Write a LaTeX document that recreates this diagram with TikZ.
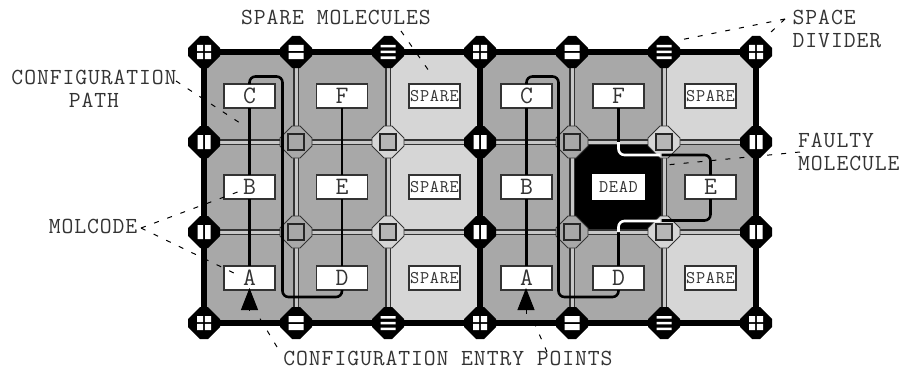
\documentclass[tikz,border=0pt]{standalone}
\usepackage{fontspec}
\setmonofont{Latin Modern Mono}[LetterSpace=4.0]
\usetikzlibrary{
    arrows.meta,
    positioning
}
\definecolor{cellgray}{gray}{0.66}
\definecolor{sparegray}{gray}{0.84}
\definecolor{buslight}{gray}{0.78}
\def\knotoutline{(-16,-4) -- (-4,-16) -- (4,-16) -- (16,-4) -- (16,4) -- (4,16) -- (-4,16) -- (-16,4) -- cycle}
\tikzstyle{molecule} = [
    rectangle,
    draw=black!80,
    line width=1.3pt,
    fill=white,
    text=black!80,
    minimum width=51pt,
    minimum height=24pt,
    inner sep=0pt,
    outer sep=0pt,
    font=\ttfamily\fontsize{25}{25}\selectfont
]
\tikzstyle{sparebox} = [
    molecule,
    font=\ttfamily\fontsize{17.8}{17.8}\selectfont
]
\tikzstyle{deadbox} = [
    sparebox,
    draw=white
]
\tikzstyle{cell} = [
    rectangle,
    minimum width=92pt,
    minimum height=90pt,
    inner sep=0pt,
    outer sep=0pt,
    fill=cellgray
]
\tikzstyle{label} = [
    inner sep=0pt,
    text=black!80,
    font=\ttfamily\fontsize{23}{23}\selectfont
]
\tikzstyle{wall} = [line width=6.5pt, black]
\tikzstyle{bus} = [line width=1.3pt, draw=black!80, double=buslight, double distance=3pt]
\tikzstyle{molpath} = [line width=2.6pt, rounded corners=6pt]
\tikzstyle{lostpath} = [molpath, white]
\tikzstyle{leader} = [line width=1pt, dash pattern=on 5pt off 9pt]
\tikzstyle{entry} = [-{Triangle[length=22pt,width=17pt]}, line width=1pt]
\tikzset{
    cornerknot/.pic={
        \fill[black] \knotoutline;
        \fill[white] (-7,-7) rectangle (-0.8,-0.8) (0.8,-7) rectangle (7,-0.8)
            (-7,0.8) rectangle (-0.8,7) (0.8,0.8) rectangle (7,7);
    },
    twobarknot/.pic={
        \fill[black] \knotoutline;
        \fill[white] (-7.5,-7) rectangle (7.5,-1) (-7.5,1) rectangle (7.5,7);
    },
    threebarknot/.pic={
        \fill[black] \knotoutline;
        \fill[white] (-7.5,-7) rectangle (7.5,-4.5) (-7.5,-1.25) rectangle (7.5,1.25)
            (-7.5,4.5) rectangle (7.5,7);
    },
    pillarknot/.pic={
        \fill[black] \knotoutline;
        \fill[white] (-6.5,-7) rectangle (-1,7) (1,-7) rectangle (6.5,7);
    },
    switchdark/.pic={
        \draw[black!80, line width=0.9pt, fill=cellgray] \knotoutline;
        \draw[black!85, line width=1.3pt, fill=cellgray] (-8,-8) rectangle (8,8);
    },
    switchlight/.pic={
        \draw[black!80, line width=0.9pt, fill=sparegray] \knotoutline;
        \draw[black!85, line width=1.3pt, fill=sparegray!85!black] (-8,-8) rectangle (8,8);
    }
}
\begin{document}
\begin{tikzpicture}[x=1pt, y=-1pt]
    \useasboundingbox (0,0) rectangle (901,369);

    % Cells
    \node[cell] (cellA) at (250,97) {};
    \node[cell, right=0pt of cellA] (cellB) {};
    \node[cell, right=0pt of cellB, fill=sparegray] (cellC) {};
    \node[cell, right=0pt of cellC] (cellD) {};
    \node[cell, right=0pt of cellD] (cellE) {};
    \node[cell, right=0pt of cellE, fill=sparegray] (cellF) {};
    \node[cell, below=0pt of cellA] (cellG) {};
    \node[cell, below=0pt of cellB] (cellH) {};
    \node[cell, below=0pt of cellC, fill=sparegray] (cellI) {};
    \node[cell, below=0pt of cellD] (cellJ) {};
    \node[cell, below=0pt of cellE, fill=black] (cellK) {};
    \node[cell, below=0pt of cellF] (cellL) {};
    \node[cell, below=0pt of cellG] (cellM) {};
    \node[cell, below=0pt of cellH] (cellN) {};
    \node[cell, below=0pt of cellI, fill=sparegray] (cellO) {};
    \node[cell, below=0pt of cellJ] (cellP) {};
    \node[cell, below=0pt of cellK] (cellQ) {};
    \node[cell, below=0pt of cellL, fill=sparegray] (cellR) {};

    % Buses
    \draw[bus] (204,142) -- (756,142);
    \draw[bus] (204,232) -- (756,232);
    \draw[bus] (296,52) -- (296,323);
    \draw[bus] (388,52) -- (388,323);
    \draw[bus] (572,52) -- (572,323);
    \draw[bus] (664,52) -- (664,323);

    % Frame
    \draw[wall] (204,52) rectangle (756,323);
    \draw[wall] (480,52) -- (480,323);

    % Dividers
    \pic at (204,52) {cornerknot};
    \pic at (296,52) {twobarknot};
    \pic at (388,52) {threebarknot};
    \pic at (480,52) {cornerknot};
    \pic at (572,52) {twobarknot};
    \pic at (664,52) {threebarknot};
    \pic at (756,52) {cornerknot};
    \pic at (204,323) {cornerknot};
    \pic at (296,323) {twobarknot};
    \pic at (388,323) {threebarknot};
    \pic at (480,323) {cornerknot};
    \pic at (572,323) {twobarknot};
    \pic at (664,323) {threebarknot};
    \pic at (756,323) {cornerknot};
    \pic at (204,142) {pillarknot};
    \pic at (480,142) {pillarknot};
    \pic at (756,142) {pillarknot};
    \pic at (204,232) {pillarknot};
    \pic at (480,232) {pillarknot};
    \pic at (756,232) {pillarknot};

    % Switches
    \pic at (296,142) {switchdark};
    \pic at (388,142) {switchlight};
    \pic at (572,142) {switchdark};
    \pic at (664,142) {switchlight};
    \pic at (296,232) {switchdark};
    \pic at (388,232) {switchlight};
    \pic at (572,232) {switchdark};
    \pic at (664,232) {switchlight};

    % Molcodes
    \node[molecule] (molCa) at (249.5,96) {C};
    \node[molecule, below=67pt of molCa] (molBa) {B};
    \node[molecule, below=67pt of molBa] (molAa) {A};
    \node[molecule, right=41.5pt of molCa] (molFa) {F};
    \node[molecule, below=67pt of molFa] (molEa) {E};
    \node[molecule, below=67pt of molEa] (molDa) {D};
    \node[sparebox, right=41.5pt of molFa] (spareA) {SPARE};
    \node[sparebox, below=67pt of spareA] (spareB) {SPARE};
    \node[sparebox, below=67pt of spareB] (spareC) {SPARE};
    \node[molecule, right=41pt of spareA] (molCb) {C};
    \node[molecule, below=67pt of molCb] (molBb) {B};
    \node[molecule, below=67pt of molBb] (molAb) {A};
    \node[molecule, right=41pt of molCb] (molFb) {F};
    \node[deadbox, below=67pt of molFb] (dead) {DEAD};
    \node[molecule, below=67pt of dead] (molDb) {D};
    \node[sparebox, right=41pt of molFb] (spareD) {SPARE};
    \node[molecule, below=67pt of spareD] (molEb) {E};
    \node[sparebox, below=67pt of molEb] (spareE) {SPARE};

    % Configuration paths, left block
    \draw[molpath] (molAa) -- (molBa);
    \draw[molpath] (molBa) -- (molCa);
    \draw[molpath] (molCa.north) -- ++(0,-7.5) -| (282.5,297) -| (molDa.south);
    \draw[molpath] (molDa) -- (molEa);
    \draw[molpath] (molEa) -- (molFa);

    % Configuration paths, right block
    \draw[molpath] (molAb) -- (molBb);
    \draw[molpath] (molBb) -- (molCb);
    \draw[molpath] (molCb.north) -- ++(0,-7.5) -| (558.5,297) -| (molDb.south);
    \draw[molpath] (molFb.south) -- (618.5,143);
    \draw[lostpath] (618.5,142) |- (660,155);
    \draw[molpath] (661.5,155) -| (molEb.north);
    \draw[molpath] (molDb.north) -- (618.5,231);
    \draw[lostpath] (618.5,232) |- (660,221);
    \draw[molpath] (661.5,220.5) -| (molEb.south);

    % Entry points
    \coordinate (entryA) at (249.5,310);
    \coordinate (entryB) at (526,313.5);
    \draw[entry] (entryA) -- (249.5,288);
    \draw[entry] (entryB) -- (526,288);

    % Labels
    \node[label] (spareText) at (336,17) {SPARE MOLECULES};
    \node[label, align=center] (pathText) at (94,89) {CONFIGURATION\\PATH};
    \node[label, align=left, anchor=west] (spaceText) at (792.5,28.5) {SPACE\\DIVIDER};
    \node[label, align=left, anchor=west] (faultyText) at (798,151.5) {FAULTY\\MOLECULE};
    \node[label] (molcodeText) at (93,226) {MOLCODE};
    \node[label] (entryText) at (448,358) {CONFIGURATION ENTRY POINTS};

    % Leaders
    \coordinate (spareEnd) at (429,71);
    \coordinate (spareStart) at (401,31);
    \coordinate (spaceStart) at (785,19);
    \coordinate (spaceEndA) at (680,40);
    \coordinate (spaceEndB) at (771,32);
    \coordinate (pathStart) at (176,81);
    \coordinate (pathEnd) at (243,125);
    \coordinate (faultyStart) at (800,152);
    \coordinate (faultyEnd) at (666,165);
    \coordinate (molcodeStart) at (141,228);
    \coordinate (molcodeEndA) at (243,190);
    \coordinate (molcodeEndB) at (238,275);
    \coordinate (entryEndA) at (256,312);
    \coordinate (entryStartA) at (277,347);
    \coordinate (entryEndB) at (533,320);
    \coordinate (entryStartB) at (547,352);
    \draw[leader] (spareStart) -- (spareEnd);
    \draw[leader] (spaceStart) -- (spaceEndA);
    \draw[leader] (spaceStart) -- (spaceEndB);
    \draw[leader] (pathStart) -- (pathEnd);
    \draw[leader] (faultyStart) -- (faultyEnd);
    \draw[leader] (molcodeStart) -- (molcodeEndA);
    \draw[leader] (molcodeStart) -- (molcodeEndB);
    \draw[leader] (entryStartA) -- (entryEndA);
    \draw[leader] (entryStartB) -- (entryEndB);
\end{tikzpicture}
\end{document}
